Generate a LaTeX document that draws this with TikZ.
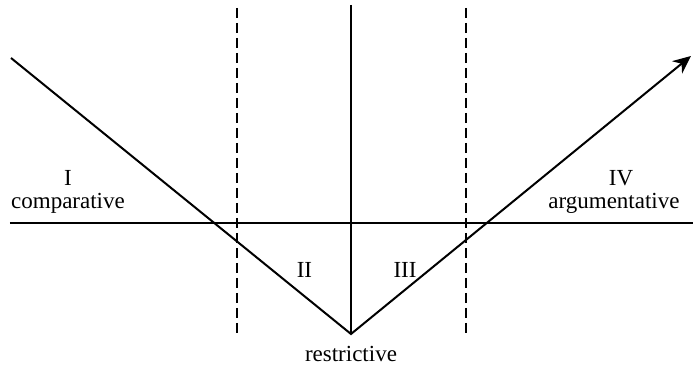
\documentclass[tikz,border=0pt]{standalone}
\usepackage{fontspec}
\setmainfont{Liberation Serif}
\usetikzlibrary{arrows.meta}
\begin{document}
\begin{tikzpicture}[x=0.5pt,y=-0.5pt,
  mainline/.style={line width=1pt},
  divider/.style={line width=1pt,dash pattern=on 5pt off 2.5pt},
  lbl/.style={font=\fontsize{11.5}{14}\selectfont,inner sep=0pt,anchor=base}]
\useasboundingbox (0,0) rectangle (693,367);
% key points
\coordinate (L) at (11,58);
\coordinate (V) at (351,334);
\coordinate (R) at (691,56);
\coordinate (HL) at (10,223);
\coordinate (HR) at (693,223);
\coordinate (T) at (351,5);
\coordinate (D1t) at (237,8);
\coordinate (D1b) at (237,335);
\coordinate (D2t) at (466,8);
\coordinate (D2b) at (466,335);
% lines
\draw[mainline] (HL) -- (HR);
\draw[mainline] (T) -- (V);
\draw[mainline,-{Stealth[length=9pt,width=8pt]}] (L) -- (V) -- (R);
\draw[divider] (D1t) -- (D1b);
\draw[divider] (D2t) -- (D2b);
% labels
\node[lbl] (n1) at (68,186) {I};
\node[lbl] (c1) at (68,209) {comparative};
\node[lbl] (n2) at (304.5,278) {II};
\node[lbl] (n3) at (405,278) {III};
\node[lbl] (n4) at (621,186) {IV};
\node[lbl] (c4) at (614,209) {argumentative};
\node[lbl] (c0) at (351,362) {restrictive};
\end{tikzpicture}
\end{document}
